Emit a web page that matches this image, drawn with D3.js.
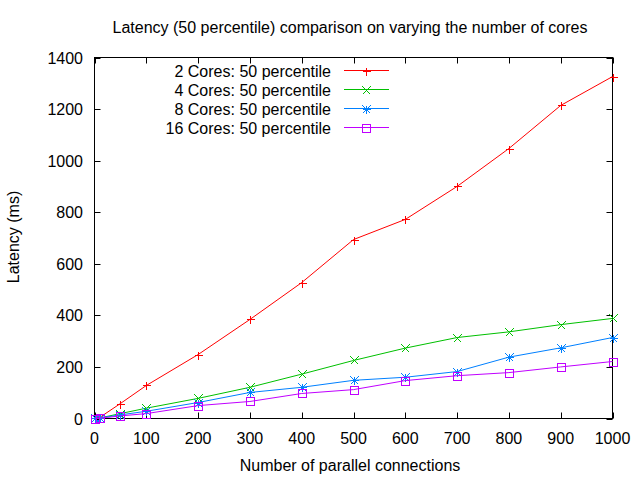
<!DOCTYPE html>
<html><head><meta charset="utf-8">
<script src="https://cdn.jsdelivr.net/npm/d3@7/dist/d3.min.js"></script>
<style>body{margin:0;background:#fff}svg{display:block}text{font-family:"Liberation Sans",Arial,sans-serif;font-size:16px;fill:#000}</style>
</head><body>
<script>
const connections = [1, 10, 50, 100, 200, 300, 400, 500, 600, 700, 800, 900, 1000];
const cores2  = [1, 4, 58, 128, 248, 384, 527, 694, 772, 900, 1047, 1214, 1326];
const cores4  = [1, 2, 19, 40, 78, 121, 172, 225, 273, 314, 336, 364, 388];
const cores8  = [1, 2, 14, 28, 62, 101, 121, 148, 160, 182, 238, 274, 314];
const cores16 = [0, 1, 10, 19, 50, 66, 97, 112, 147, 166, 178, 200, 221];
const seriesNames = ["2 Cores: 50 percentile", "4 Cores: 50 percentile", "8 Cores: 50 percentile", "16 Cores: 50 percentile"];
const xTicks = [0,100,200,300,400,500,600,700,800,900,1000];
const yTicks = [0,200,400,600,800,1000,1200,1400];
const titleText = "Latency (50 percentile) comparison on varying the number of cores";
const xLabel = "Number of parallel connections";
const yLabel = "Latency (ms)";

const series = [cores2, cores4, cores8, cores16];
const colors = ["#ff0000", "#00c000", "#0080ff", "#c000ff"];
const markers = ["plus", "cross", "star", "square"];

const W = 640, H = 480;
const L = 94.5, R = 612.5, T = 57.5, B = 418.5;
const svg = d3.select("body").append("svg").attr("width", W).attr("height", H);
const x = d3.scaleLinear().domain([0, 1000]).range([L, R]);
const y = d3.scaleLinear().domain([0, 1400]).range([B, T]);

// ticks (mirrored, inward)
const tl = 6;
const g = svg.append("g").attr("stroke", "#000").attr("stroke-width", 1);
xTicks.forEach(t => {
  const px = Math.round(x(t)) + 0.5;
  g.append("line").attr("x1", px).attr("x2", px).attr("y1", B).attr("y2", B - tl);
  g.append("line").attr("x1", px).attr("x2", px).attr("y1", T).attr("y2", T + tl);
});
yTicks.forEach(t => {
  const py = Math.round(y(t)) + 0.5;
  g.append("line").attr("x1", L).attr("x2", L + tl).attr("y1", py).attr("y2", py);
  g.append("line").attr("x1", R).attr("x2", R - tl).attr("y1", py).attr("y2", py);
});
svg.append("rect").attr("x", L).attr("y", T).attr("width", R - L).attr("height", B - T)
  .attr("fill", "none").attr("stroke", "#000");

xTicks.forEach(t => svg.append("text").attr("x", x(t)).attr("y", 444).attr("text-anchor", "middle").text(t));
yTicks.forEach(t => svg.append("text").attr("x", 83).attr("y", y(t) + 6).attr("text-anchor", "end").text(t));

svg.append("text").attr("x", 350).attr("y", 33).attr("text-anchor", "middle").text(titleText);
svg.append("text").attr("x", 350).attr("y", 471).attr("text-anchor", "middle").text(xLabel);
svg.append("text").attr("transform", "translate(19,237) rotate(-90)").attr("text-anchor", "middle").text(yLabel);

function marker(sel, type, cx, cy, color) {
  const s = 4;
  cx = Math.round(cx) + 0.5; cy = Math.round(cy) + 0.5;
  const gm = sel.append("g").attr("stroke", color).attr("fill", "none").attr("stroke-width", 1)
    .attr("shape-rendering", "crispEdges");
  if (type === "plus" || type === "star") {
    gm.append("line").attr("x1", cx - s).attr("x2", cx + s).attr("y1", cy).attr("y2", cy);
    gm.append("line").attr("x1", cx).attr("x2", cx).attr("y1", cy - s).attr("y2", cy + s);
  }
  if (type === "cross" || type === "star") {
    gm.append("line").attr("x1", cx - s).attr("x2", cx + s).attr("y1", cy - s).attr("y2", cy + s);
    gm.append("line").attr("x1", cx - s).attr("x2", cx + s).attr("y1", cy + s).attr("y2", cy - s);
  }
  if (type === "square") {
    gm.append("rect").attr("x", cx - s).attr("y", cy - s).attr("width", 2 * s).attr("height", 2 * s);
  }
}

const line = d3.line().x((d, i) => x(connections[i])).y(d => y(d));
series.forEach((vals, k) => {
  svg.append("path").attr("d", line(vals)).attr("fill", "none").attr("stroke", colors[k]).attr("stroke-width", 1);
  vals.forEach((v, i) => marker(svg, markers[k], x(connections[i]), y(v), colors[k]));
});

// legend
seriesNames.forEach((name, k) => {
  const ly = 70.5 + k * 19;
  svg.append("text").attr("x", 331).attr("y", ly + 6).attr("text-anchor", "end").text(name);
  svg.append("line").attr("x1", 344).attr("x2", 389).attr("y1", ly).attr("y2", ly).attr("stroke", colors[k]);
  marker(svg, markers[k], 366, ly, colors[k]);
});
</script>
</body></html>
